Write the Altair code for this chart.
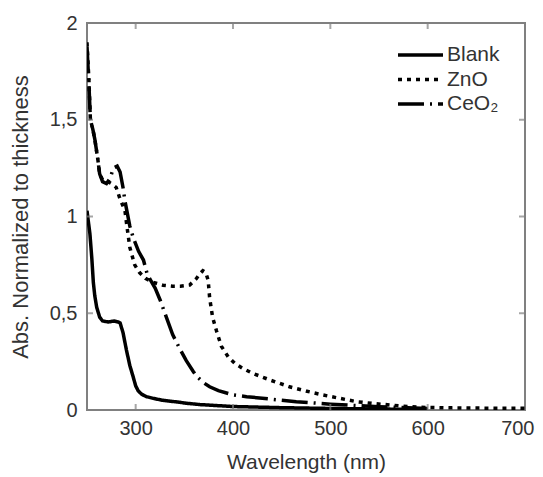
import altair as alt
import pandas as pd

# ---- data ----
blank_wl = [250, 251.5, 253, 255, 256.5, 258, 260, 263, 266, 272, 278, 282, 284, 287, 290.5, 294,
            297.5, 300, 302.5, 306, 311, 320, 328, 345, 352, 366, 400, 450, 500, 550, 600]
blank_abs = [1.03, 0.97, 0.91, 0.78, 0.66, 0.59, 0.53, 0.48, 0.46, 0.455, 0.46, 0.455, 0.45, 0.40, 0.31, 0.23,
             0.17, 0.125, 0.10, 0.082, 0.069, 0.058, 0.05, 0.04, 0.035, 0.028, 0.018, 0.012, 0.008, 0.005, 0.003]

zno_wl = [250, 251, 252, 253.5, 256, 258, 261, 263, 266, 271.5, 275, 280, 284, 289, 291, 294, 299, 304,
          310, 318, 328, 338, 346, 355.5, 362.5, 366, 369, 372, 374.5, 376, 379, 383, 388, 395, 402,
          410, 420, 438, 458, 475, 492, 510, 527, 545, 561, 580, 600, 625, 650, 675, 700]
zno_abs = [1.9, 1.8, 1.7, 1.5, 1.45, 1.4, 1.3, 1.22, 1.19, 1.18, 1.17, 1.15, 1.09, 1.03, 0.95, 0.84, 0.75, 0.71,
           0.68, 0.66, 0.645, 0.64, 0.64, 0.646, 0.68, 0.705, 0.72, 0.71, 0.67, 0.58, 0.48, 0.41, 0.33, 0.275, 0.24,
           0.215, 0.19, 0.155, 0.12, 0.098, 0.078, 0.06, 0.043, 0.033, 0.026, 0.018, 0.013, 0.011, 0.01, 0.009, 0.009]

ceo2_wl = [250, 251, 252, 253.5, 256, 258, 261, 263, 266, 270, 274, 277, 281, 284, 287, 289, 294, 297.5,
           303, 308, 312, 320, 325, 331.5, 338, 345, 352, 359, 362.5, 370, 376, 385, 400, 414, 441, 465,
           500, 550, 600]
ceo2_abs = [1.88, 1.78, 1.68, 1.5, 1.45, 1.4, 1.3, 1.22, 1.18, 1.17, 1.2, 1.25, 1.26, 1.23, 1.15, 1.08, 0.95, 0.89,
            0.82, 0.775, 0.70, 0.63, 0.57, 0.48, 0.39, 0.32, 0.255, 0.2, 0.175, 0.14, 0.12, 0.1, 0.078, 0.069, 0.055,
            0.043, 0.03, 0.017, 0.008]

series = ["Blank", "ZnO", "CeO₂"]
dashes = [[1, 0], [4, 5], [26, 6, 2, 6]]

x_domain = [250, 700]
y_domain = [0, 2]
x_labels = [300, 400, 500, 600, 700]
x_ticks = [300, 400, 500, 600]
y_labels = [0, 0.5, 1, 1.5, 2]
y_ticks = [0.5, 1, 1.5]

rows = []
for name, wl, ab in [(series[0], blank_wl, blank_abs), (series[1], zno_wl, zno_abs), (series[2], ceo2_wl, ceo2_abs)]:
    for i, (w, a) in enumerate(zip(wl, ab)):
        rows.append({"wl": w, "abs": a, "sample": name, "order": i})
df = pd.DataFrame(rows)

xt_df = pd.DataFrame([{"wl": x, "abs": y} for x in x_ticks for y in y_domain])
yt_df = pd.DataFrame([{"wl": x, "abs": y} for x in x_domain for y in y_ticks])

W, H = 438, 387
GRAY = "#808080"
TXT = "#333333"
FONT = "Liberation Sans"

xscale = alt.Scale(domain=x_domain, nice=False, zero=False)
yscale = alt.Scale(domain=y_domain, nice=False, zero=False)
ylab = "replace(format(datum.value, '~g'), '.', ',')"

lines = alt.Chart(df).mark_line(strokeWidth=3.5, color="black", clip=True, strokeCap="butt").encode(
    x=alt.X("wl:Q", scale=xscale,
            axis=alt.Axis(orient="bottom", values=x_labels, ticks=False, domain=False, grid=False,
                          labelFlush=True, labelFlushOffset=9, labelPadding=8, labelFontSize=20,
                          labelFont=FONT, labelColor=TXT,
                          title="Wavelength (nm)", titleFontSize=21, titleFont=FONT, titleFontWeight="normal",
                          titleColor=TXT, titlePadding=13)),
    y=alt.Y("abs:Q", scale=yscale,
            axis=alt.Axis(orient="left", values=y_labels, ticks=False, domain=False, grid=False,
                          labelFlush=False, labelExpr=ylab, labelPadding=10, labelFontSize=20, labelFont=FONT,
                          labelColor=TXT, title="Abs. Normalized to thickness", titleFontSize=22,
                          titleFont=FONT, titleFontWeight="normal", titleColor=TXT, titlePadding=17)),
    strokeDash=alt.StrokeDash("sample:N", scale=alt.Scale(domain=series, range=dashes),
                              legend=alt.Legend(title=None, orient="none", legendX=309, legendY=20,
                                                symbolType="M-1,0L3.5,0", symbolSize=400, symbolStrokeWidth=3.5,
                                                symbolStrokeColor="black", symbolFillColor="transparent",
                                                labelFontSize=21, labelFont=FONT,
                                                labelColor=TXT, labelOffset=27, rowPadding=2.5, padding=0)),
    order="order:Q",
)

xticks = alt.Chart(xt_df).mark_tick(orient="vertical", size=12, thickness=2, color=GRAY, clip=True).encode(
    x=alt.X("wl:Q", scale=xscale),
    y=alt.Y("abs:Q", scale=yscale),
)
yticks = alt.Chart(yt_df).mark_tick(orient="horizontal", size=12, thickness=2, color=GRAY, clip=True).encode(
    x=alt.X("wl:Q", scale=xscale),
    y=alt.Y("abs:Q", scale=yscale),
)

chart = alt.layer(lines, xticks, yticks).properties(
    width=W, height=H, autosize="none", background="white",
    padding={"left": 79, "top": 15, "right": 10, "bottom": 66},
).configure_view(stroke=GRAY, strokeWidth=2)

chart.save("out.html", embed_options={"renderer": "svg", "actions": False})
